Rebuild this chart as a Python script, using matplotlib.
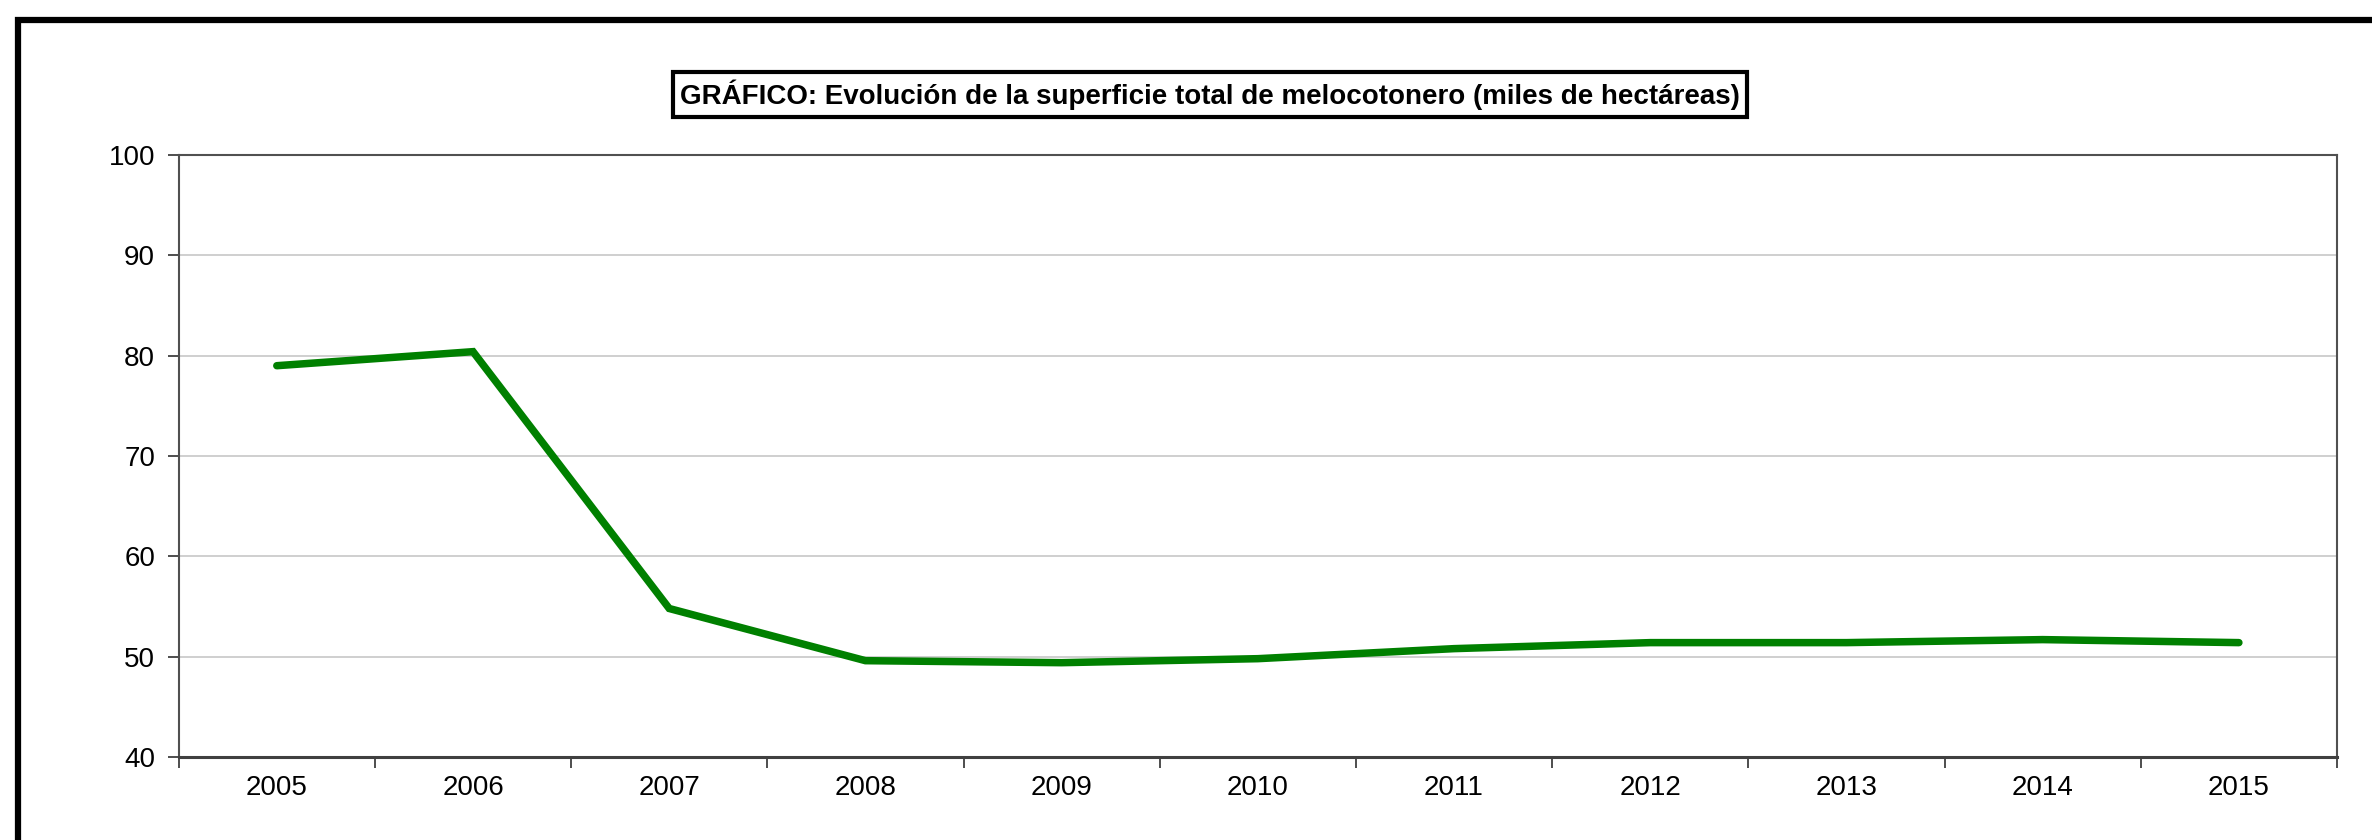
import matplotlib
matplotlib.use("Agg")
import matplotlib.pyplot as plt
from matplotlib.patches import Rectangle

years = ["2005", "2006", "2007", "2008", "2009", "2010", "2011", "2012", "2013", "2014", "2015"]
superficie = [79.0, 80.4, 54.8, 49.6, 49.4, 49.8, 50.8, 51.4, 51.4, 51.7, 51.4]
title = "GRÁFICO: Evolución de la superficie total de melocotonero (miles de hectáreas)"
yticks = [40, 50, 60, 70, 80, 90, 100]

plt.rcParams['font.family'] = ['Liberation Sans', 'DejaVu Sans']

W, H = 2372, 840
fig = plt.figure(figsize=(W / 100, H / 100), dpi=100)

# outer border (extends beyond right/bottom edges)
fig.patches.append(Rectangle((17.5 / W, -0.1), 1.2, 1 - 20 / H + 0.1,
                             transform=fig.transFigure, fill=False,
                             edgecolor='black', linewidth=4.5, zorder=0))

left, right, top, bottom = 178.7, 2337, 155, 757
ax = fig.add_axes([left / W, 1 - bottom / H, (right - left) / W, (bottom - top) / H])

x = list(range(len(years)))
ax.plot(x, superficie, color='#008000', linewidth=5.4, solid_capstyle='round',
        solid_joinstyle='miter', zorder=3)

ax.set_xlim(-0.5, len(years) - 0.5)
ax.set_ylim(40, 100)
ax.set_yticks(yticks)
ax.set_yticklabels([str(v) for v in yticks], fontsize=20)
ax.yaxis.grid(True, color='#cccccc', linewidth=1.3)
ax.set_axisbelow(True)

ax.set_xticks([i - 0.5 for i in range(len(years) + 1)])
ax.set_xticklabels([])
ax.set_xticks(x, minor=True)
ax.set_xticklabels(years, minor=True, fontsize=20)
ax.tick_params(axis='x', which='minor', length=0, pad=13)
ax.tick_params(axis='x', which='major', length=8, width=1.3, color='#404040', direction='out')
ax.tick_params(axis='y', length=8, width=1.3, color='#404040', direction='out', pad=9)

for s in ax.spines.values():
    s.set_color('#505050')
    s.set_linewidth(1.5)
ax.spines['bottom'].set_linewidth(2.2)
ax.spines['bottom'].set_color('#404040')

fig.text(1210 / W, 1 - 94.5 / H, title, fontsize=20, fontweight='bold',
         ha='center', va='center',
         bbox=dict(boxstyle='square,pad=0.25', facecolor='white', edgecolor='black', linewidth=3))

fig.savefig("out.png", dpi=100)
